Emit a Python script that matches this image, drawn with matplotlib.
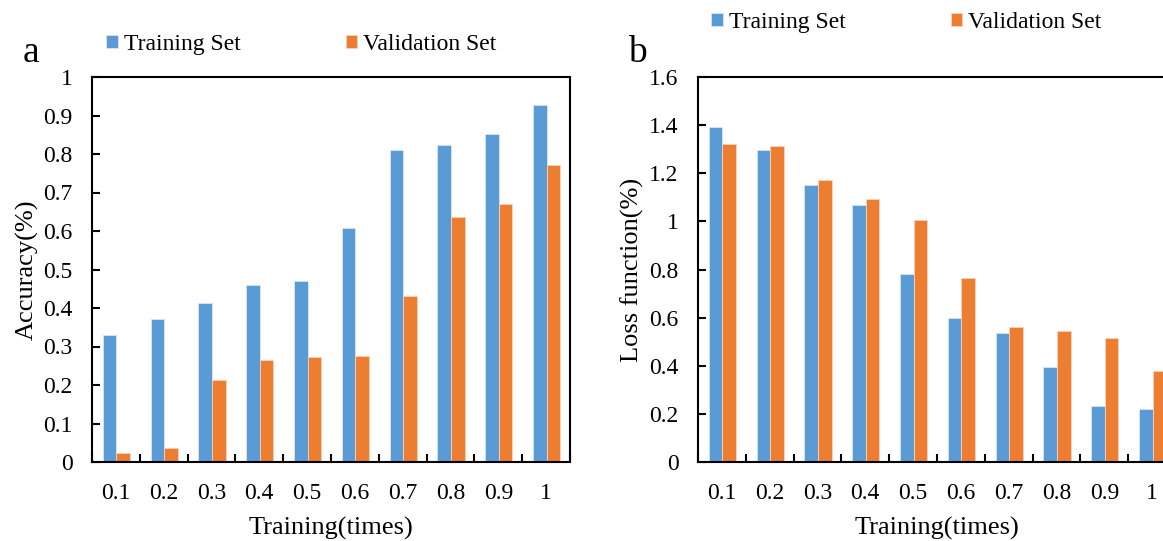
import matplotlib.pyplot as plt
import numpy as np

plt.rcParams['font.family'] = ['Liberation Serif', 'DejaVu Serif']

# data
steps = ['0.1', '0.2', '0.3', '0.4', '0.5', '0.6', '0.7', '0.8', '0.9', '1']
acc_train = [0.33, 0.372, 0.413, 0.461, 0.471, 0.608, 0.811, 0.824, 0.852, 0.928]
acc_val = [0.023, 0.036, 0.213, 0.265, 0.273, 0.275, 0.431, 0.637, 0.670, 0.772]
loss_train = [1.392, 1.297, 1.151, 1.070, 0.781, 0.598, 0.536, 0.395, 0.233, 0.222]
loss_val = [1.320, 1.313, 1.172, 1.092, 1.006, 0.765, 0.560, 0.544, 0.516, 0.378]

blue = '#5B9BD5'
orange = '#ED7D31'

W, H = 1163, 541
fig = plt.figure(figsize=(W / 100, H / 100), dpi=100)
ax1 = fig.add_axes([92 / W, (H - 462) / H, 478 / W, 385 / H])
ax2 = fig.add_axes([698 / W, (H - 462) / H, 478 / W, 385 / H])


def draw(ax, train, val, ymax, ystep, ylabel):
    x = np.arange(len(steps))
    w = 0.285
    ax.bar(x - w / 2 + 0.012, train, w, color=blue, edgecolor='#d6e6f5', linewidth=0.6, label='Training Set')
    ax.bar(x + w / 2 + 0.012, val, w, color=orange, edgecolor='#f7d3bb', linewidth=0.6, label='Validation Set')
    ax.set_xlim(-0.5, len(steps) - 0.5)
    ax.set_ylim(0, ymax)
    ax.set_xticks(x)
    ax.set_xticklabels(steps)
    ax.set_xticks(np.arange(len(steps) + 1) - 0.5, minor=True)
    ax.tick_params(axis='x', which='major', length=0, pad=15, labelsize=17)
    ax.tick_params(axis='x', which='minor', direction='in', length=6, width=1.5)
    yt = np.arange(0, ymax + ystep / 2, ystep)
    ax.set_yticks(yt)
    ax.set_yticklabels(['%g' % round(v, 2) for v in yt])
    ax.tick_params(axis='y', direction='in', length=6, width=1.5, pad=14, labelsize=17)
    for s in ax.spines.values():
        s.set_linewidth(1.5)
    ax.set_xlabel('Training(times)', fontsize=19)
    ax.set_ylabel(ylabel, fontsize=19)
    ax.xaxis.set_label_coords(0.5, -0.143)
    ax.yaxis.set_label_coords(-0.112, 0.5)


draw(ax1, acc_train, acc_val, 1.0, 0.1, 'Accuracy(%)')
draw(ax2, loss_train, loss_val, 1.6, 0.2, 'Loss function(%)')

leg_kw = dict(ncol=2, frameon=False, loc='upper left', fontsize=17,
              handlelength=0.5, handleheight=0.5, handletextpad=0.25,
              columnspacing=4.45, borderaxespad=0, borderpad=0)
h, l = ax1.get_legend_handles_labels()
fig.legend(h, l, bbox_to_anchor=(106 / W, 1 - 34 / H), **leg_kw)
fig.legend(h, l, bbox_to_anchor=(711 / W, 1 - 12 / H), **leg_kw)

fig.text(23 / W, 1 - 62 / H, 'a', fontsize=27, va='baseline')
fig.text(628 / W, 1 - 62 / H, 'b', fontsize=27, va='baseline')

fig.savefig('out.png', dpi=100)
